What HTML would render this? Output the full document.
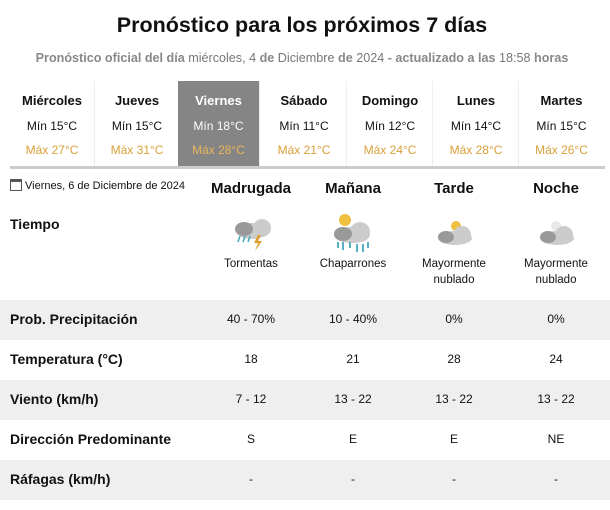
<!DOCTYPE html>
<html><head><meta charset="utf-8"><style>
*{margin:0;padding:0;box-sizing:border-box}
body{width:610px;height:510px;background:#fff;font-family:"Liberation Sans",sans-serif;color:#111;position:relative;overflow:hidden}
.a{position:absolute}
h1{position:absolute;top:13px;left:0;width:604px;text-align:center;font-size:21.5px;font-weight:bold}
.sub{top:51px;left:0;width:604px;text-align:center;font-size:12.6px;color:#777}
.sub b{color:#888}
.tab{position:absolute;top:81px;width:85px;height:86px;text-align:center;border-right:1px solid #eee}
.tab .d{margin-top:12px;font-weight:bold;font-size:13px}
.tab .mn{margin-top:11px;font-size:12px}
.tab .mx{margin-top:10px;font-size:12px;color:#d9a03a}
.sel{background:#858585;color:#fff}
.sel .mx{color:#e8b55a}
.row{position:absolute;left:0;width:610px;height:40px}
.g{background:#efefef}
.lbl{position:absolute;left:10px;font-weight:bold;font-size:14px;top:11px}
.c{position:absolute;width:100px;text-align:center;font-size:12px;top:12px}
.hd{position:absolute;top:180px;width:110px;text-align:center;font-weight:bold;font-size:15px}
.desc{position:absolute;top:256px;width:100px;text-align:center;font-size:11.5px;line-height:16px}
</style></head><body>
<h1>Pronóstico para los próximos 7 días</h1>
<div class="a sub"><b>Pronóstico oficial del día</b> miércoles, 4 <b>de</b> Diciembre <b>de</b> 2024 <b>- actualizado a las</b> 18:58 <b>horas</b></div>
<div class="tab" style="left:10px"><div class="d">Miércoles</div><div class="mn">Mín 15°C</div><div class="mx">Máx 27°C</div></div>
<div class="tab" style="left:95px"><div class="d">Jueves</div><div class="mn">Mín 15°C</div><div class="mx">Máx 31°C</div></div>
<div class="tab sel" style="left:178px;width:82px"><div class="d">Viernes</div><div class="mn">Mín 18°C</div><div class="mx">Máx 28°C</div></div>
<div class="tab" style="left:262px"><div class="d">Sábado</div><div class="mn">Mín 11°C</div><div class="mx">Máx 21°C</div></div>
<div class="tab" style="left:348px"><div class="d">Domingo</div><div class="mn">Mín 12°C</div><div class="mx">Máx 24°C</div></div>
<div class="tab" style="left:434px"><div class="d">Lunes</div><div class="mn">Mín 14°C</div><div class="mx">Máx 28°C</div></div>
<div class="tab" style="left:519px;border-right:none"><div class="d">Martes</div><div class="mn">Mín 15°C</div><div class="mx">Máx 26°C</div></div>
<div class="a" style="left:10px;top:166px;width:595px;height:3px;background:#ccc"></div>
<div class="a" style="left:10px;top:179px;font-size:11px"><span style="display:inline-block;width:12px;height:12px;border:1.5px solid #555;border-top-width:3px;vertical-align:-2px;margin-right:3px"></span>Viernes, 6 de Diciembre de 2024</div>
<div class="hd" style="left:196px">Madrugada</div>
<div class="hd" style="left:298px">Mañana</div>
<div class="hd" style="left:399px">Tarde</div>
<div class="hd" style="left:501px">Noche</div>
<div class="lbl" style="top:216px">Tiempo</div>
<svg class="a" style="left:0;top:210px" width="610" height="45">
<g><circle cx="262" cy="18" r="9" fill="#ccc"/><ellipse cx="252" cy="21" rx="16" ry="8" fill="#ccc"/><ellipse cx="244" cy="19" rx="9" ry="7" fill="#999"/>
<path d="M238 32l2-6M243 32l2-6M248 32l2-6" stroke="#4ab" stroke-width="1.5"/><path d="M258 25l-4 8h4l-3 8 7-10h-4l3-6z" fill="#e0a030"/></g>
<g><circle cx="345" cy="10" r="6" fill="#f0c040"/><circle cx="360" cy="22" r="10" fill="#ccc"/><ellipse cx="352" cy="25" rx="18" ry="8" fill="#ccc"/><ellipse cx="343" cy="24" rx="9" ry="7" fill="#999"/>
<path d="M338 32v6M343 32v8M350 32v6M357 34v8M363 34v8M368 32v6" stroke="#4ab" stroke-width="1.8"/></g>
<g><circle cx="456" cy="16" r="5" fill="#f0c040"/><circle cx="462" cy="25" r="9" fill="#ccc"/><ellipse cx="455" cy="28" rx="17" ry="7" fill="#ccc"/><ellipse cx="446" cy="27" rx="8" ry="6" fill="#999"/></g>
<g><circle cx="556" cy="16" r="5" fill="#e8e8e8"/><circle cx="564" cy="25" r="9" fill="#ccc"/><ellipse cx="557" cy="28" rx="17" ry="7" fill="#ccc"/><ellipse cx="548" cy="27" rx="8" ry="6" fill="#999"/></g>
</svg>
<div class="desc" style="left:201px">Tormentas</div>
<div class="desc" style="left:303px">Chaparrones</div>
<div class="desc" style="left:404px">Mayormente<br>nublado</div>
<div class="desc" style="left:506px">Mayormente<br>nublado</div>
<div class="row g" style="top:300px"><div class="lbl">Prob. Precipitación</div><div class="c" style="left:201px">40 - 70%</div><div class="c" style="left:303px">10 - 40%</div><div class="c" style="left:404px">0%</div><div class="c" style="left:506px">0%</div></div>
<div class="row" style="top:340px"><div class="lbl">Temperatura (°C)</div><div class="c" style="left:201px">18</div><div class="c" style="left:303px">21</div><div class="c" style="left:404px">28</div><div class="c" style="left:506px">24</div></div>
<div class="row g" style="top:380px"><div class="lbl">Viento (km/h)</div><div class="c" style="left:201px">7 - 12</div><div class="c" style="left:303px">13 - 22</div><div class="c" style="left:404px">13 - 22</div><div class="c" style="left:506px">13 - 22</div></div>
<div class="row" style="top:420px"><div class="lbl">Dirección Predominante</div><div class="c" style="left:201px">S</div><div class="c" style="left:303px">E</div><div class="c" style="left:404px">E</div><div class="c" style="left:506px">NE</div></div>
<div class="row g" style="top:460px"><div class="lbl">Ráfagas (km/h)</div><div class="c" style="left:201px">-</div><div class="c" style="left:303px">-</div><div class="c" style="left:404px">-</div><div class="c" style="left:506px">-</div></div>
</body></html>
